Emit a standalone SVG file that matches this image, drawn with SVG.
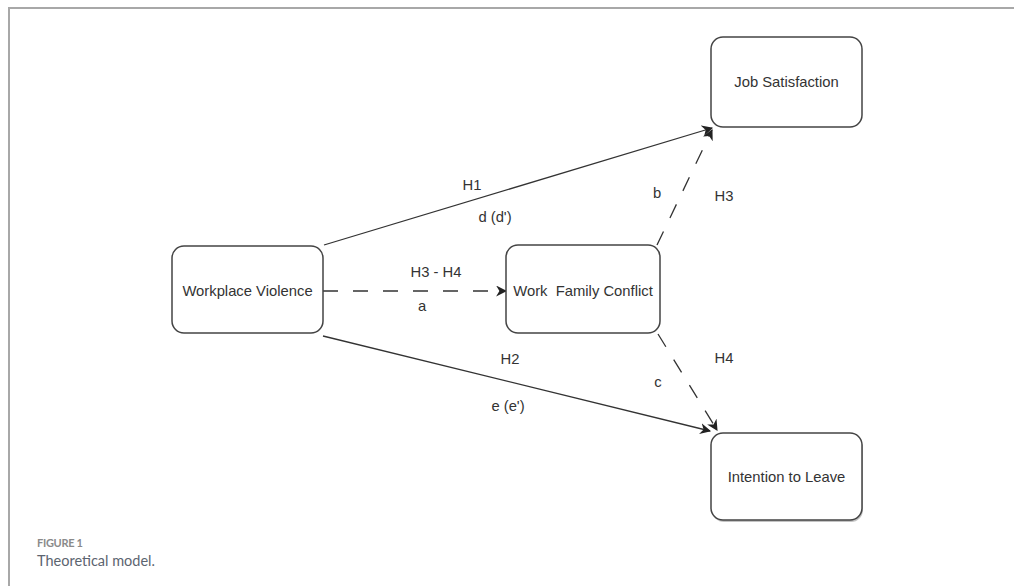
<svg xmlns="http://www.w3.org/2000/svg" width="1014" height="586" viewBox="0 0 1014 586">
<style>
.box{fill:#fff;stroke:#444;stroke-width:1.5}
.lbl{font-family:"Liberation Sans",Arial,sans-serif;font-size:14.8px;fill:#333;text-anchor:middle}
.edge{fill:none;stroke:#333;stroke-width:1.3}
.dash{stroke-dasharray:15 15}
.cap{font-family:Lato,"Open Sans",sans-serif}
</style>
<defs>
<marker id="arr" viewBox="0 0 10 10" refX="9" refY="5" markerWidth="11" markerHeight="11" markerUnits="userSpaceOnUse" orient="auto">
<path d="M0,0 L10,5 L0,10 L3,5 z" fill="#222"/>
</marker>
</defs>
<rect width="1014" height="586" fill="#fff"/>
<path d="M9,586 V8 H1014" fill="none" stroke="#a8a8a8" stroke-width="2"/>

<g id="connectors">
<path class="edge" d="M324,245 L712,128" marker-end="url(#arr)"/>
<path class="edge dash" d="M323,291 L506,291" marker-end="url(#arr)"/>
<path class="edge" d="M323,336 L710,431" marker-end="url(#arr)"/>
<path class="edge dash" d="M657,245 L712,130" marker-end="url(#arr)"/>
<path class="edge dash" d="M658,334 L717,430" marker-end="url(#arr)"/>
<text class="lbl" x="472" y="190">H1</text>
<text class="lbl" x="495" y="222">d (d')</text>
<text class="lbl" x="436" y="277">H3 - H4</text>
<text class="lbl" x="422" y="311">a</text>
<text class="lbl" x="510" y="364">H2</text>
<text class="lbl" x="508" y="411">e (e')</text>
<text class="lbl" x="657" y="198">b</text>
<text class="lbl" x="724" y="201">H3</text>
<text class="lbl" x="658" y="387">c</text>
<text class="lbl" x="724" y="363">H4</text>
</g>

<g id="workplace-violence">
<rect class="box" x="172" y="246" width="151" height="87" rx="12"/>
<text class="lbl" x="247.5" y="296">Workplace Violence</text>
</g>
<g id="work-family-conflict">
<rect class="box" x="506" y="245" width="154" height="88" rx="12"/>
<text class="lbl" x="583" y="296" xml:space="preserve">Work  Family Conflict</text>
</g>
<g id="job-satisfaction">
<rect class="box" x="711" y="37" width="151" height="90" rx="12"/>
<text class="lbl" x="786.5" y="87">Job Satisfaction</text>
</g>
<g id="intention-to-leave">
<rect x="712" y="435" width="151" height="87" rx="12" fill="#888" opacity="0.5"/>
<rect class="box" x="711" y="433" width="151" height="87" rx="12"/>
<text class="lbl" x="786.5" y="482">Intention to Leave</text>
</g>

<text class="cap" x="37" y="547" font-size="11" font-weight="bold" fill="#8a8a8a" letter-spacing="-0.3">FIGURE 1</text>
<text class="cap" x="37" y="566" font-size="14.5" fill="#5c6470">Theoretical model.</text>
</svg>
